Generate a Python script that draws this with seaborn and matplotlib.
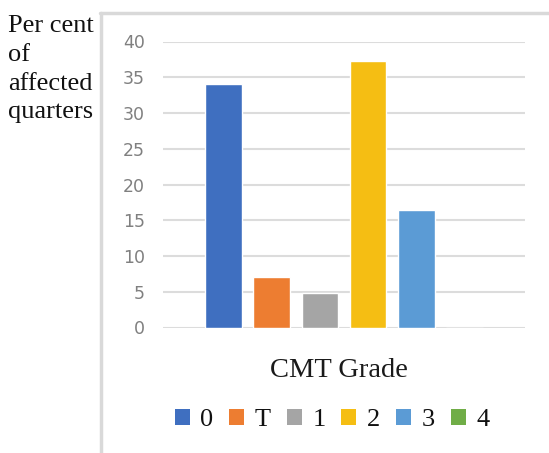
import matplotlib
matplotlib.use("Agg")
import matplotlib.pyplot as plt
from matplotlib.lines import Line2D
from matplotlib.patches import Patch
import seaborn as sns
import pandas as pd

# Share of affected quarters per CMT grade
grades = ["0", "T", "1", "2", "3", "4"]
percent = [34.1, 7.0, 4.8, 37.3, 16.4, 0.0]
colors = ["#3F6FC0", "#ED7D31", "#A5A5A5", "#F5BE13", "#5B9BD5", "#70AD47"]
y_ticks = [0, 5, 10, 15, 20, 25, 30, 35, 40]

df = pd.DataFrame({"group": ["CMT Grade"] * len(grades),
                   "grade": grades, "pct": percent})

W, H = 549, 453
sns.set_theme(style="white")
fig = plt.figure(figsize=(W / 100, H / 100), dpi=100)
y0_px, y40_px = 327.5, 41.5
ax = fig.add_axes([163 / W, 1 - y0_px / H, (525 - 163) / W, (y0_px - y40_px) / H])

sns.barplot(data=df, x="group", y="pct", hue="grade", hue_order=grades,
            palette=colors, gap=0.24, width=0.8, ax=ax, legend=False,
            saturation=1)

ax.set_xlim(-0.5, 0.5)
ax.set_ylim(0, 40)
ax.set_yticks(y_ticks)
ax.set_yticklabels([str(t) for t in y_ticks], color="#808080",
                   fontsize=12.5, family="DejaVu Sans")
ax.tick_params(axis="y", length=0, pad=13)
ax.set_xticks([])
ax.set_xlabel("")
ax.set_ylabel("")
ax.yaxis.grid(True, color="#dcdcdc", linewidth=1.5)
ax.set_axisbelow(True)
for s in ax.spines.values():
    s.set_visible(False)

# category name under the plot
fig.text(338.5 / W, 1 - 377 / H, "CMT Grade", ha="center", va="baseline",
         fontsize=20.5, family="Liberation Serif", color="#1a1a1a")

# y axis caption at top left
fig.text(8 / W, 1 - 15 / H, "Per cent\nof\naffected\nquarters",
         ha="left", va="top", fontsize=19, family="Liberation Serif",
         color="#111111", linespacing=1.4)

# legend along the bottom, plain square swatches
handles = [Patch(facecolor=c, edgecolor="none") for c in colors]
fig.legend(handles, grades, loc="center", bbox_to_anchor=(332 / W, 1 - 420 / H),
           ncol=6, frameon=False, prop={"family": "Liberation Serif", "size": 19},
           handlelength=0.57, handleheight=0.57, handletextpad=0.4,
           columnspacing=0.6, labelcolor="#111111")

# chart frame: top and left edges
fig.add_artist(Line2D([100 / W, 1], [1 - 13 / H, 1 - 13 / H],
                      transform=fig.transFigure, color="#d9d9d9", linewidth=2.5))
fig.add_artist(Line2D([101 / W, 101 / W], [0, 1 - 13 / H],
                      transform=fig.transFigure, color="#d9d9d9", linewidth=2.5))

fig.savefig("out.png", dpi=100)
